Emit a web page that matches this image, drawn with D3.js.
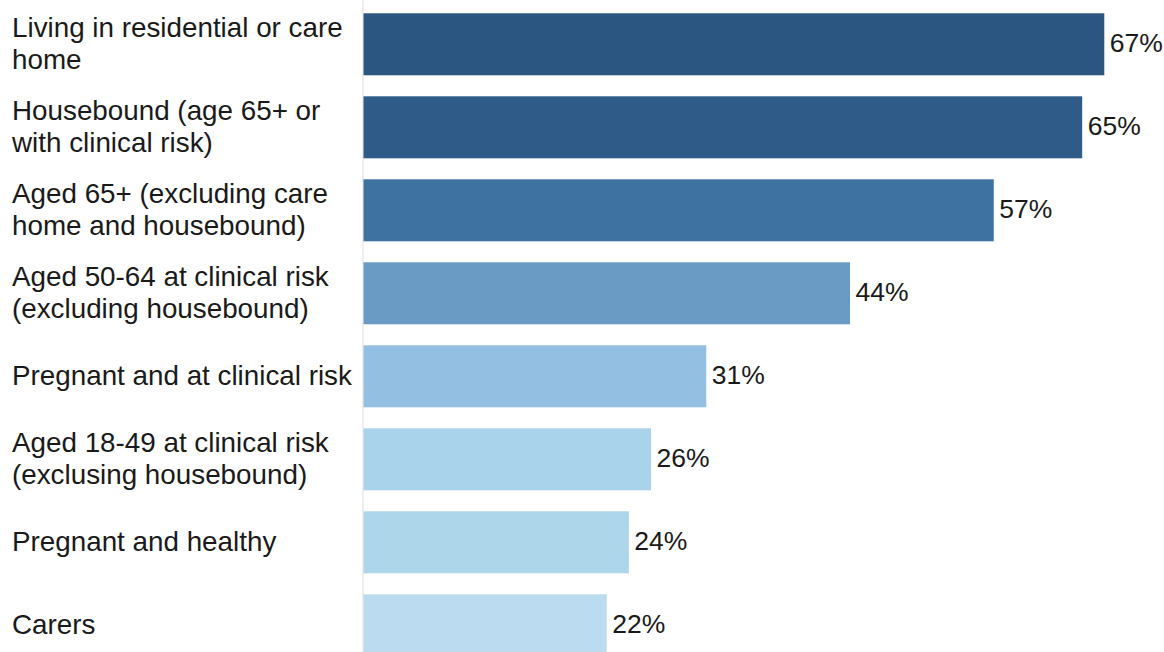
<!DOCTYPE html>
<html>
<head>
<meta charset="utf-8">
<script src="https://cdn.jsdelivr.net/npm/d3@7"></script>
<style>
  html, body { margin: 0; padding: 0; background: #fff; }
  svg { display: block; }
  text { font-family: "Liberation Sans", Arial, sans-serif; fill: #1a1a1a; }
</style>
</head>
<body>
<svg id="chart" width="1164" height="652"></svg>
<script>
// Vaccine uptake by eligible group (%)
const categories = [
  ["Living in residential or care", "home"],
  ["Housebound (age 65+ or", "with clinical risk)"],
  ["Aged 65+ (excluding care", "home and housebound)"],
  ["Aged 50-64 at clinical risk", "(excluding housebound)"],
  ["Pregnant and at clinical risk"],
  ["Aged 18-49 at clinical risk", "(exclusing housebound)"],
  ["Pregnant and healthy"],
  ["Carers"]
];
const values = [67, 65, 57, 44, 31, 26, 24, 22];
const barColors = ["#2b5681", "#2f5b88", "#3e72a1", "#6a9bc4", "#93bfe2", "#a9d3eb", "#aed6eb", "#bbdcf0"];

const svg = d3.select("#chart");
const W = 1164, H = 652;
const axisX = 363.5;

const keys = d3.range(values.length);

const y = d3.scaleBand()
  .domain(keys)
  .range([2.8, 2.8 + 83 * values.length])
  .paddingInner(0.253)
  .paddingOuter(0.1265);

const x = d3.scaleLinear()
  .domain([0, d3.max(values)])
  .range([axisX, 1104.3]);

// light category axis line
svg.append("line")
  .attr("x1", axisX - 0.5).attr("x2", axisX - 0.5)
  .attr("y1", 0).attr("y2", H)
  .attr("stroke", "#e9e9e9")
  .attr("stroke-width", 1.5);

// bars
svg.selectAll("rect.bar")
  .data(keys)
  .join("rect")
  .attr("class", "bar")
  .attr("x", x(0))
  .attr("y", i => y(i))
  .attr("width", i => x(values[i]) - x(0))
  .attr("height", y.bandwidth())
  .attr("fill", i => barColors[i]);

// value labels
svg.selectAll("text.value")
  .data(keys)
  .join("text")
  .attr("class", "value")
  .attr("x", i => x(values[i]) + 5.5)
  .attr("y", i => y(i) + y.bandwidth() / 2)
  .attr("dy", "0.3em")
  .attr("font-size", 26.5)
  .text(i => values[i] + "%");

// category labels (one or two lines)
const fs = 27.8;
const lineH = 32;
const labels = svg.selectAll("text.cat")
  .data(keys)
  .join("text")
  .attr("class", "cat")
  .attr("font-size", fs)
  .attr("x", 12)
  .attr("y", i => y(i) + y.bandwidth() / 2);

labels.selectAll("tspan")
  .data(i => categories[i].map((t, j) => ({ t, j, n: categories[i].length })))
  .join("tspan")
  .attr("x", 12)
  .attr("dy", d => d.j === 0 ? ((0.3 * fs) - (d.n - 1) * lineH / 2) : lineH)
  .text(d => d.t);
</script>
</body>
</html>
